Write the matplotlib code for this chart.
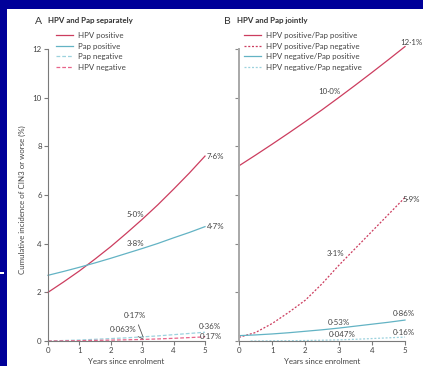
import matplotlib

matplotlib.use("Agg")
import matplotlib.pyplot as plt
from matplotlib.patches import Rectangle

# data (half-year readings)
years = [0, 0.5, 1, 1.5, 2, 2.5, 3, 3.5, 4, 4.5, 5]
xticks = [0, 1, 2, 3, 4, 5]

# panel A: HPV and Pap separately
hpv_pos = [2.0, 2.43, 2.88, 3.37, 3.88, 4.43, 5.0, 5.6, 6.24, 6.9, 7.6]
pap_pos = [2.7, 2.86, 3.03, 3.21, 3.4, 3.6, 3.8, 4.01, 4.24, 4.46, 4.7]
pap_neg = [0.0, 0.02, 0.04, 0.07, 0.1, 0.13, 0.17, 0.21, 0.26, 0.31, 0.36]
hpv_neg = [0.0, 0.005, 0.013, 0.024, 0.036, 0.05, 0.063, 0.085, 0.11, 0.14, 0.17]

# panel B: HPV and Pap jointly
pos_pos = [7.2, 7.64, 8.09, 8.55, 9.02, 9.5, 10.0, 10.51, 11.03, 11.56, 12.1]
pos_neg = [0.15, 0.35, 0.72, 1.18, 1.68, 2.35, 3.1, 3.8, 4.5, 5.2, 5.9]
neg_pos = [0.22, 0.25, 0.29, 0.34, 0.4, 0.46, 0.53, 0.61, 0.69, 0.77, 0.86]
neg_neg_years = [0.35, 1, 1.5, 2, 2.5, 3, 3.5, 4, 4.5, 5]
neg_neg = [0.0, 0.005, 0.012, 0.02, 0.032, 0.047, 0.07, 0.1, 0.13, 0.16]

yticks = [0, 2, 4, 6, 8, 10, 12]

W, H = 423, 366
BLUE = "#000099"
CRIMSON = "#cc3d5f"
PINK = "#e8648a"
TEAL = "#63b3c4"
LTEAL = "#9cd2de"
AXIS = "#7a7a7a"
TEXT = "#444444"
FS = 5.7

plt.rcParams.update(
    {
        "font.family": ["Lato", "DejaVu Sans"],
        "font.size": FS,
        "text.color": TEXT,
        "axes.edgecolor": AXIS,
        "xtick.color": AXIS,
        "ytick.color": AXIS,
        "xtick.labelcolor": TEXT,
        "ytick.labelcolor": TEXT,
    }
)


def px_box(x0, x1, y_top, y_bottom):
    return [x0 / W, 1 - y_bottom / H, (x1 - x0) / W, (y_bottom - y_top) / H]


fig = plt.figure(figsize=(W / 100, H / 100), dpi=100, facecolor=BLUE)
fig.patches.append(
    Rectangle((7 / W, 0), 1, 1 - 9 / H, transform=fig.transFigure,
              facecolor="white", edgecolor="none", zorder=-10)
)
fig.patches.append(
    Rectangle((0, 1 - 274 / H), 4 / W, 2 / H, transform=fig.transFigure,
              facecolor="white", edgecolor="none", zorder=-10)
)

ax_a = fig.add_axes(px_box(48, 205, 49, 341))
ax_b = fig.add_axes(px_box(239, 405, 49, 341))

dash_a = (3, 1.6)
dot_b = (1.6, 1.4)

ax_a.plot(years, hpv_pos, color=CRIMSON, lw=0.9, label="HPV positive", clip_on=False)
ax_a.plot(years, pap_pos, color=TEAL, lw=0.9, label="Pap positive", clip_on=False)
ax_a.plot(years, pap_neg, color=LTEAL, lw=0.9, dashes=dash_a, label="Pap negative", clip_on=False)
ax_a.plot(years, hpv_neg, color=PINK, lw=0.9, dashes=dash_a, label="HPV negative", clip_on=False)

ax_b.plot(years, pos_pos, color=CRIMSON, lw=0.9, label="HPV positive/Pap positive", clip_on=False)
ax_b.plot(years, pos_neg, color=CRIMSON, lw=0.9, dashes=dot_b, label="HPV positive/Pap negative", clip_on=False)
ax_b.plot(years, neg_pos, color=TEAL, lw=0.9, label="HPV negative/Pap positive", clip_on=False)
ax_b.plot(neg_neg_years, neg_neg, color=LTEAL, lw=0.9, dashes=dot_b, label="HPV negative/Pap negative", clip_on=False)

for ax in (ax_a, ax_b):
    ax.set_xlim(0, 5)
    ax.set_ylim(0, 12)
    ax.set_facecolor("none")
    ax.set_xticks(xticks)
    ax.set_yticks(yticks)
    for side in ("top", "right"):
        ax.spines[side].set_visible(False)
    ax.spines["bottom"].set_linewidth(0.8)
    ax.tick_params(length=3, width=0.8, pad=1.5, labelsize=FS)
    ax.legend(
        loc="upper left",
        bbox_to_anchor=((56 if ax is ax_a else 244) / W, 1 - 32 / H),
        bbox_transform=fig.transFigure,
        frameon=False,
        borderpad=0,
        borderaxespad=0,
        handlelength=2.2,
        handletextpad=0.6,
        labelspacing=0.45,
        fontsize=FS,
        labelcolor=TEXT,
    )

ax_a.spines["left"].set_linewidth(0.8)
ax_b.spines["left"].set_linewidth(1.4)
ax_b.spines["left"].set_color("#a8a8a8")
ax_b.tick_params(axis="y", labelleft=False, color="#8a8a8a")

# value labels
lab = dict(fontsize=FS, color=TEXT, va="center")
ax_a.text(5.06, 7.6, "7·6%", ha="left", **lab)
ax_a.text(5.06, 4.7, "4·7%", ha="left", **lab)
ax_a.text(2.77, 5.19, "5·0%", ha="center", **lab)
ax_a.text(2.77, 4.0, "3·8%", ha="center", **lab)
ax_a.text(4.8, 0.58, "0·36%", ha="left", **lab)
ax_a.text(4.84, 0.17, "0·17%", ha="left", **lab)
ax_a.annotate("0·17%", xy=(3.03, 0.16), xytext=(2.77, 1.03), ha="center", va="center",
              fontsize=FS, color=TEXT,
              arrowprops=dict(arrowstyle="-", color="#555555", lw=0.6, shrinkA=2, shrinkB=0))
ax_a.annotate("0·063%", xy=(3.03, 0.08), xytext=(2.39, 0.49), ha="center", va="center",
              fontsize=FS, color=TEXT,
              arrowprops=dict(arrowstyle="-", color="#555555", lw=0.6, shrinkA=2, shrinkB=0))

ax_b.text(4.85, 12.26, "12·1%", ha="left", **lab)
ax_b.text(2.71, 10.25, "10·0%", ha="center", **lab)
ax_b.text(4.94, 5.8, "5·9%", ha="left", **lab)
ax_b.text(2.92, 3.58, "3·1%", ha="center", **lab)
ax_b.text(4.97, 1.12, "0·86%", ha="center", **lab)
ax_b.text(4.97, 0.33, "0·16%", ha="center", **lab)
ax_b.text(3.01, 0.78, "0·53%", ha="center", **lab)
ax_b.text(3.11, 0.25, "0·047%", ha="center", **lab)

# panel headings
fig.text(35 / W, 1 - 21 / H, "A", fontsize=7.5, va="center", ha="left", color="#333333")
fig.text(48 / W, 1 - 21 / H, "HPV and Pap separately", fontsize=FS, weight="bold",
         va="center", ha="left", color="#333333")
fig.text(224 / W, 1 - 21 / H, "B", fontsize=7.5, va="center", ha="left", color="#333333")
fig.text(237 / W, 1 - 21 / H, "HPV and Pap jointly", fontsize=FS, weight="bold",
         va="center", ha="left", color="#333333")

fig.text(22 / W, 1 - 200 / H, "Cumulative incidence of CIN3 or worse (%)", rotation=90,
         fontsize=FS, va="center", ha="center")
fig.text(126 / W, 1 - 358 / H, "Years since enrolment", fontsize=FS, va="top", ha="center")
fig.text(322 / W, 1 - 358 / H, "Years since enrolment", fontsize=FS, va="top", ha="center")

fig.savefig("out.png", dpi=100, facecolor=BLUE)
